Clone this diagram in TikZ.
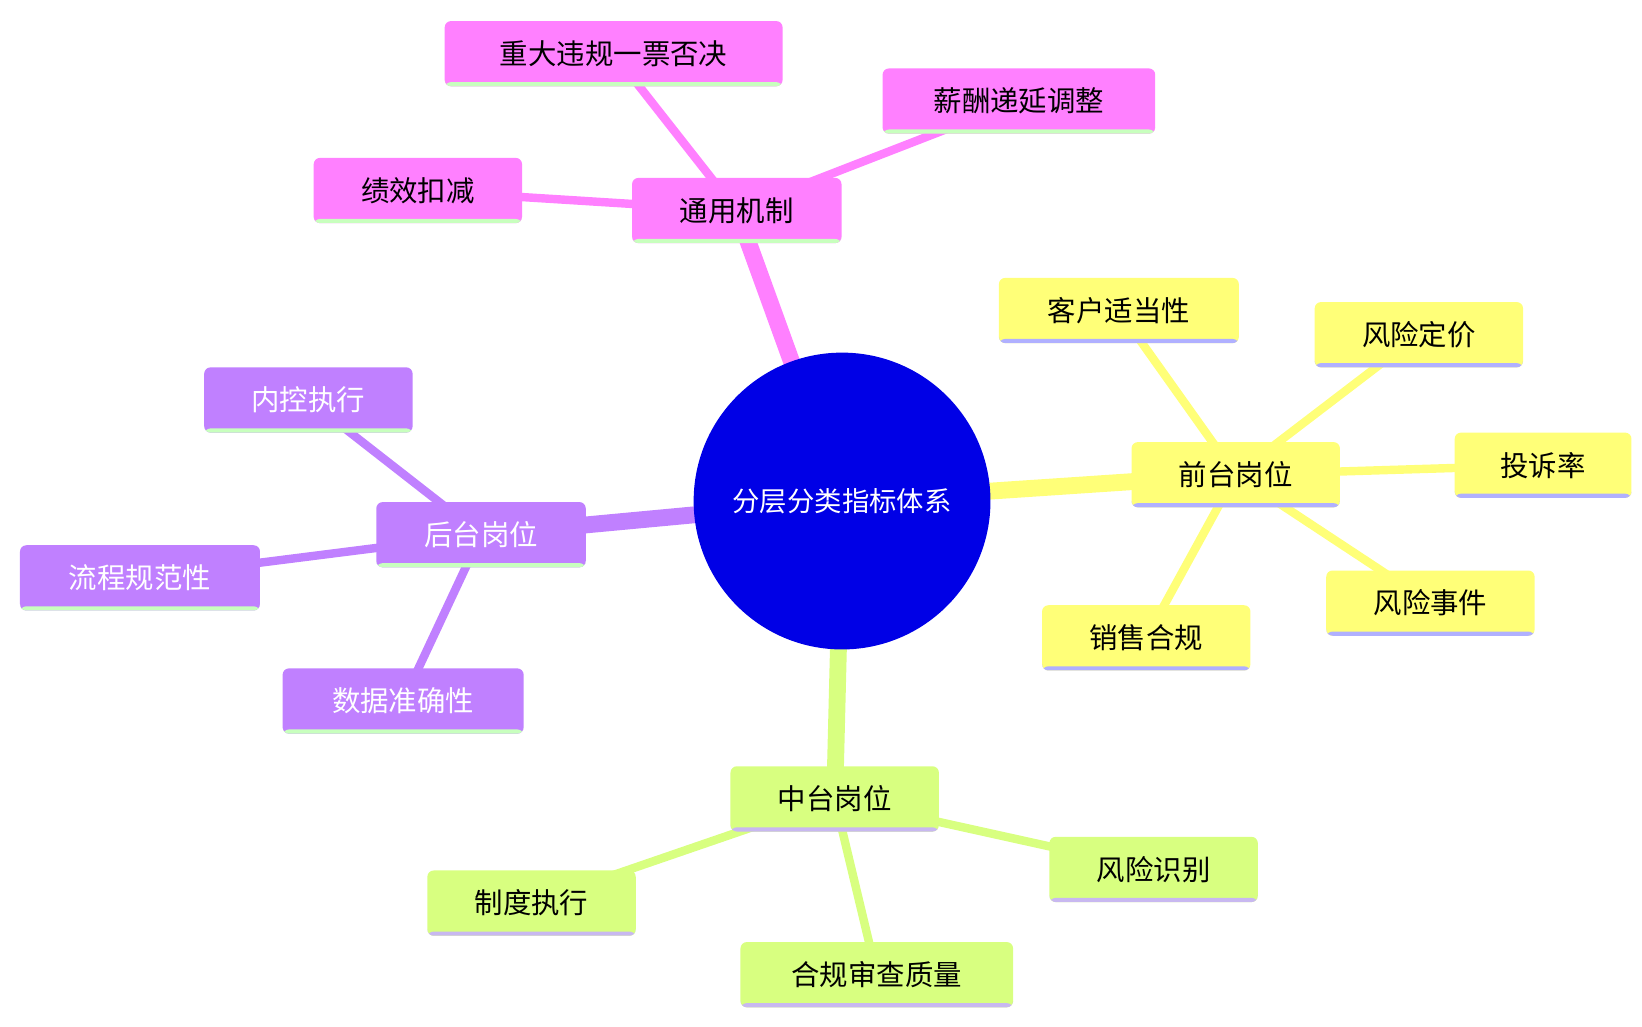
\documentclass[tikz,border=0pt]{standalone}
\usepackage{fontspec}
\setmainfont{Noto Sans CJK SC}
\usetikzlibrary{backgrounds}
\definecolor{pk}{RGB}{255,128,255}
\definecolor{ye}{RGB}{255,255,120}
\definecolor{gr}{RGB}{216,255,128}
\definecolor{pu}{RGB}{192,128,255}
\definecolor{ulg}{RGB}{200,255,190}
\definecolor{ulb}{RGB}{176,176,255}
\definecolor{ulp}{RGB}{200,184,240}
\definecolor{core}{RGB}{0,0,230}
\tikzset{
  x=1pt,y=-1pt,
  box/.style={rounded corners=6pt,minimum height=62pt,inner sep=0pt,font=\fontsize{27}{30}\selectfont,
    path picture={\fill[#1] ([yshift=4pt]path picture bounding box.south west) rectangle (path picture bounding box.south east);}},
  pkb/.style={box=ulg,fill=pk,text=black},
  yeb/.style={box=ulb,fill=ye,text=black},
  grb/.style={box=ulp,fill=gr,text=black},
  pub/.style={box=ulg,fill=pu,text=white},
  mainl/.style={line width=16pt},
  subl/.style={line width=8pt},
}
\begin{document}
\begin{tikzpicture}
\useasboundingbox (0,0) rectangle (1560,975);
\node[circle,fill=core,minimum size=282pt,text=white,font=\fontsize{26}{30}\selectfont] (c) at (800,476) {分层分类指标体系};
\node[pkb,minimum width=199pt] (t) at (700,200) {通用机制};
\node[pkb,minimum width=321pt] (t1) at (583,51) {重大违规一票否决};
\node[pkb,minimum width=259pt] (t2) at (968,96) {薪酬递延调整};
\node[pkb,minimum width=198pt] (t3) at (397,181) {绩效扣减};
\node[yeb,minimum width=198pt] (f) at (1174,451) {前台岗位};
\node[yeb,minimum width=228pt] (f1) at (1063,295) {客户适当性};
\node[yeb,minimum width=198pt] (f2) at (1348,318) {风险定价};
\node[yeb,minimum width=168pt] (f3) at (1466,442) {投诉率};
\node[yeb,minimum width=198pt] (f4) at (1359,573) {风险事件};
\node[yeb,minimum width=198pt] (f5) at (1089,606) {销售合规};
\node[grb,minimum width=198pt] (m) at (793,759) {中台岗位};
\node[grb,minimum width=198pt] (m1) at (1096,826) {风险识别};
\node[grb,minimum width=198pt] (m2) at (505,858) {制度执行};
\node[grb,minimum width=259pt] (m3) at (833,926) {合规审查质量};
\node[pub,minimum width=199pt] (b) at (457,508) {后台岗位};
\node[pub,minimum width=198pt] (b1) at (293,380) {内控执行};
\node[pub,minimum width=228pt] (b2) at (133,549) {流程规范性};
\node[pub,minimum width=229pt] (b3) at (383,666) {数据准确性};
\begin{scope}[on background layer]
\draw[pk,mainl] (c.center) -- (t.center);
\draw[ye,mainl] (c.center) -- (f.center);
\draw[gr,mainl] (c.center) -- (m.center);
\draw[pu,mainl] (c.center) -- (b.center);
\foreach \a in {t1,t2,t3} \draw[pk,subl] (t.center) -- (\a.center);
\foreach \a in {f1,f2,f3,f4,f5} \draw[ye,subl] (f.center) -- (\a.center);
\foreach \a in {m1,m2,m3} \draw[gr,subl] (m.center) -- (\a.center);
\foreach \a in {b1,b2,b3} \draw[pu,subl] (b.center) -- (\a.center);
\end{scope}
\end{tikzpicture}
\end{document}
